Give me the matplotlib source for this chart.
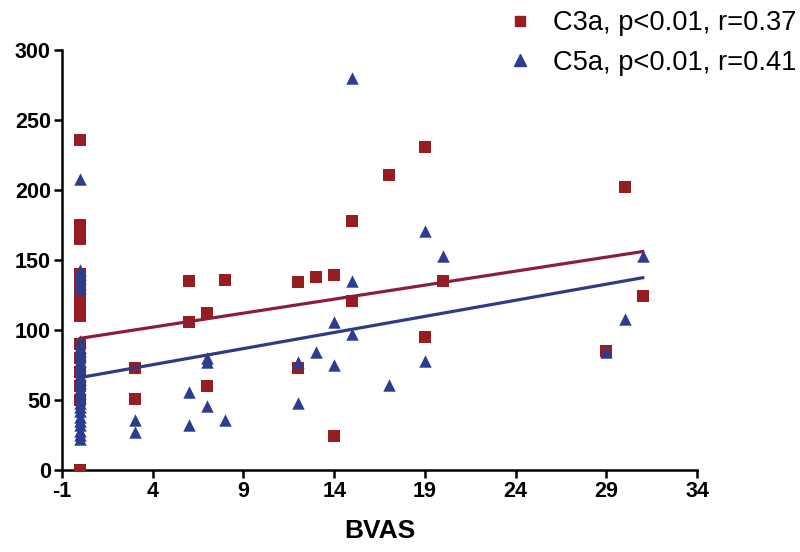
import matplotlib.pyplot as plt
from matplotlib.lines import Line2D
import numpy as np

plt.rcParams["axes.unicode_minus"] = False

# C3a values (squares)
c3a_x = [0]*17 + [3, 3, 6, 6, 7, 7, 8, 12, 12, 13, 14, 14, 15, 15, 17, 19, 19, 20, 29, 30, 31]
c3a_y = [236, 175, 170, 165, 140, 135, 130, 125, 120, 115, 110, 90, 80, 70, 60, 50, 0,
         73, 51, 135, 106, 112, 60, 136, 134, 73, 138, 139, 24, 178, 121, 211, 231, 95, 135, 85, 202, 124]

# C5a values (triangles)
c5a_x = [0]*28 + [3, 3, 6, 6, 7, 7, 7, 8, 12, 12, 13, 14, 14, 15, 15, 15, 17, 19, 19, 20, 29, 30, 31]
c5a_y = [208, 143, 140, 137, 133, 130, 92, 88, 85, 82, 78, 75, 72, 68, 65, 62, 58, 55, 52, 48,
         45, 42, 38, 35, 32, 28, 25, 22,
         36, 27, 56, 32, 80, 77, 46, 36, 77, 48, 84, 106, 75, 280, 135, 97, 61, 171, 78, 153, 84, 108, 153]

# regression lines (intercept, slope), drawn over 0..31
c3a_fit = (94, 2.0)
c5a_fit = (66, 2.3)
fit_range = [0, 31]

labels = ["C3a, p<0.01, r=0.37", "C5a, p<0.01, r=0.41"]
xticks = [-1, 4, 9, 14, 19, 24, 29, 34]
yticks = [0, 50, 100, 150, 200, 250, 300]

red = "#981d22"
blue = "#2b3d8e"
red_line = "#8a1f3c"
blue_line = "#2f3c85"

fig = plt.figure(figsize=(8, 5.52), dpi=100)
ax = fig.add_axes([0.0775, 0.1486, 0.794, 0.761])

ax.scatter(c3a_x, c3a_y, marker="s", s=66, color=red, zorder=3, linewidths=0)
ax.scatter(c5a_x, c5a_y, marker="^", s=80, color=blue, zorder=4, linewidths=0)

xx = np.array(fit_range)
ax.plot(xx, c3a_fit[0] + c3a_fit[1]*xx, color=red_line, lw=2.3, zorder=5)
ax.plot(xx, c5a_fit[0] + c5a_fit[1]*xx, color=blue_line, lw=2.3, zorder=5)

ax.set_xlim(-1, 34)
ax.set_ylim(0, 300)
ax.set_xticks(xticks)
ax.set_yticks(yticks)
for s in ["top", "right"]:
    ax.spines[s].set_visible(False)
for s in ["left", "bottom"]:
    ax.spines[s].set_linewidth(1.8)
ax.tick_params(width=1.8, length=6, direction="out", pad=2)
for lab in ax.get_xticklabels() + ax.get_yticklabels():
    lab.set_fontfamily("Liberation Sans")
    lab.set_fontweight("bold")
    lab.set_fontsize(15.5)
ax.set_xlabel("BVAS", fontsize=19, fontweight="bold", family="Liberation Sans", labelpad=12)

handles = [Line2D([], [], marker="s", ls="", color=red, markersize=7),
           Line2D([], [], marker="^", ls="", color=blue, markersize=8)]
fig.legend(handles, labels, loc="upper right", bbox_to_anchor=(1.026, 1.026), frameon=False,
           prop={"family": "Liberation Sans", "size": 19.6}, handletextpad=0.7, labelspacing=0.5,
           handlelength=1.0)

fig.savefig("out.png", dpi=100)
